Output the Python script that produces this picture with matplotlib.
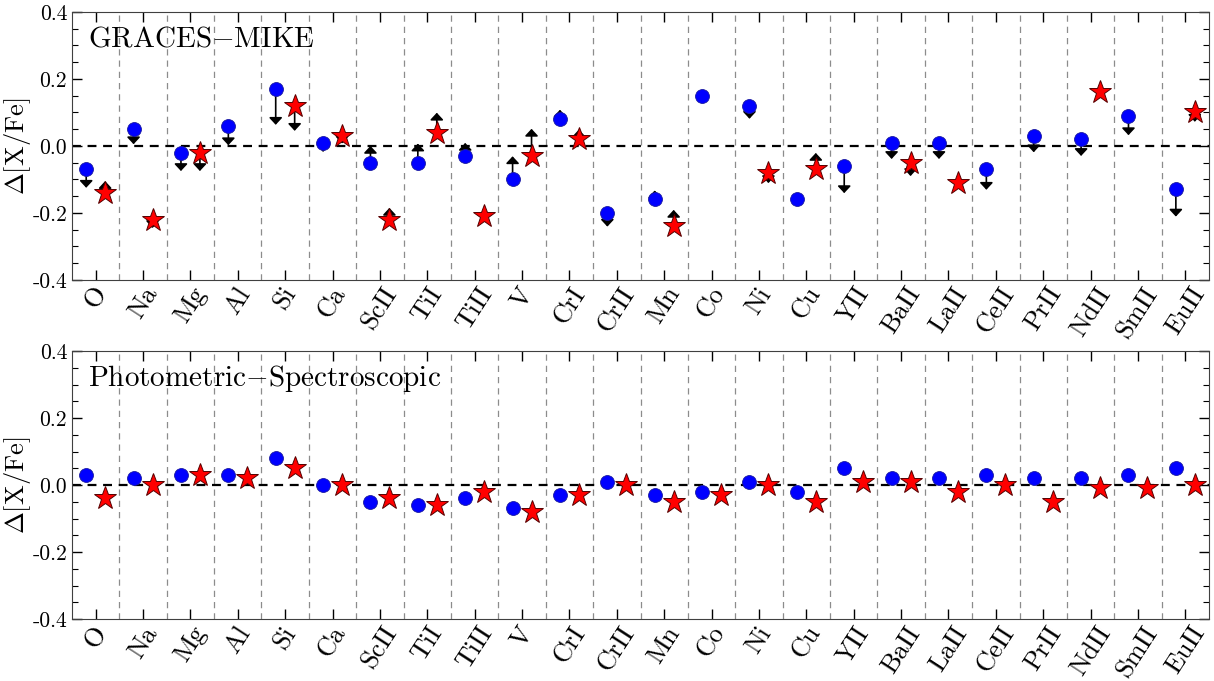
import matplotlib
matplotlib.use("Agg")
import matplotlib.pyplot as plt
import numpy as np

plt.rcParams['font.family'] = 'cmr10'
plt.rcParams['mathtext.fontset'] = 'cm'
plt.rcParams['axes.unicode_minus'] = False

nan = np.nan

# element / ion labels along the x axis
elements = ['O', 'Na', 'Mg', 'Al', 'Si', 'Ca', 'ScII', 'TiI', 'TiII', 'V', 'CrI', 'CrII',
            'Mn', 'Co', 'Ni', 'Cu', 'YII', 'BaII', 'LaII', 'CeII', 'PrII', 'NdII', 'SmII', 'EuII']

# GRACES - MIKE differences (circles = star 1, stars = star 2), arrows point to the limit value
graces_circ = [-0.07, 0.05, -0.02, 0.06, 0.17, 0.01, -0.05, -0.05, -0.03, -0.10, 0.08, -0.20,
               -0.16, 0.15, 0.12, -0.16, -0.06, 0.01, 0.01, -0.07, 0.03, 0.02, 0.09, -0.13]
graces_circ_lim = [-0.125, 0.005, -0.075, 0.002, 0.063, -0.018, 0.0, 0.007, 0.009, -0.031, 0.108, -0.241,
                   -0.133, nan, 0.081, nan, -0.141, -0.039, -0.039, -0.131, -0.019, -0.03, 0.032, -0.211]
graces_star = [-0.14, -0.22, -0.02, nan, 0.12, 0.03, -0.22, 0.04, -0.21, -0.03, 0.02, nan,
               -0.24, nan, -0.08, -0.07, nan, -0.05, -0.11, nan, nan, 0.16, nan, 0.10]
graces_star_lim = [-0.105, -0.245, -0.075, nan, 0.045, 0.007, -0.185, 0.099, nan, 0.051, 0.049, nan,
                   -0.191, nan, -0.111, -0.021, nan, -0.09, nan, nan, nan, nan, nan, 0.072]

# photometric - spectroscopic differences
phot_circ = [0.03, 0.02, 0.03, 0.03, 0.08, 0.0, -0.05, -0.06, -0.04, -0.07, -0.03, 0.01,
             -0.03, -0.02, 0.01, -0.02, 0.05, 0.02, 0.02, 0.03, 0.02, 0.02, 0.03, 0.05]
phot_star = [-0.04, 0.0, 0.03, 0.02, 0.05, 0.0, -0.04, -0.06, -0.02, -0.08, -0.03, 0.0,
             -0.05, -0.03, 0.0, -0.05, 0.01, 0.01, -0.02, 0.0, -0.05, -0.01, -0.01, 0.0]

yticks = [-0.4, -0.2, 0.0, 0.2, 0.4]
ytick_labels = ['-0.4', '-0.2', '0.0', '0.2', '0.4']

xpos = np.arange(len(elements))
offset = 0.2


#####################################################################
################ Function to set up one panel #######################
#####################################################################
def setupPanel(ax, title):
    ax.set_xlim(-0.5, len(elements) - 0.5)
    ax.set_ylim(-0.4, 0.4)
    for xb in xpos[:-1] + 0.5:                                     # separators between elements
        ax.axvline(xb, color='0.55', ls=(0, (5, 4)), lw=0.9, zorder=1)
    ax.axhline(0.0, color='k', ls=(0, (4, 3)), lw=1.6, zorder=2)  # zero difference
    ax.set_xticks(xpos)
    ax.set_xticklabels(elements, rotation=57, ha='center', va='top', fontsize=19)
    ax.set_yticks(yticks)
    ax.set_yticklabels(ytick_labels, fontsize=15.5)
    ax.set_yticks(np.arange(-0.4, 0.41, 0.05), minor=True)
    ax.tick_params(axis='both', which='major', direction='in', top=True, right=True,
                   length=7, width=1)
    ax.tick_params(axis='x', which='major', pad=2)
    ax.tick_params(axis='y', which='minor', direction='in', right=True, length=4, width=0.8)
    ax.set_ylabel(r'$\Delta$[X/Fe]', fontsize=19)
    ax.yaxis.set_label_coords(-0.034, 0.5)
    for sp in ax.spines.values():
        sp.set_color('0.25')
    ax.text(0.014, 0.87, title, transform=ax.transAxes, fontsize=21, va='baseline')


def drawArrows(ax, xs, vals, lims):
    for x, v, l in zip(xs, vals, lims):
        if np.isnan(v) or np.isnan(l):
            continue
        ax.annotate('', xy=(x, l), xytext=(x, v),
                    arrowprops=dict(arrowstyle='-|>,head_length=0.3,head_width=0.28',
                                    color='k', lw=1.2, mutation_scale=14,
                                    shrinkA=0, shrinkB=0), zorder=3)


fig = plt.figure(figsize=(12.14, 6.81), dpi=100)
axTop = fig.add_axes([0.0593, 0.589, 0.9366, 0.3935])
axBot = fig.add_axes([0.0593, 0.091, 0.9366, 0.3935])

setupPanel(axTop, r'GRACES$-$MIKE')
setupPanel(axBot, r'Photometric$-$Spectroscopic')

# top panel with limits
drawArrows(axTop, xpos - offset, graces_circ, graces_circ_lim)
drawArrows(axTop, xpos + offset, graces_star, graces_star_lim)
axTop.plot(xpos - offset, graces_circ, 'o', color='#0000ff', ms=10, mec='#1a1aa0', mew=0.6, zorder=5)
axTop.plot(xpos + offset, graces_star, '*', color='#ff0000', ms=17, mec='#550000', mew=0.7, zorder=5)

# bottom panel
axBot.plot(xpos - offset, phot_circ, 'o', color='#0000ff', ms=10, mec='#1a1aa0', mew=0.6, zorder=5)
axBot.plot(xpos + offset, phot_star, '*', color='#ff0000', ms=17, mec='#550000', mew=0.7, zorder=5)

fig.savefig('out.png', dpi=100)
